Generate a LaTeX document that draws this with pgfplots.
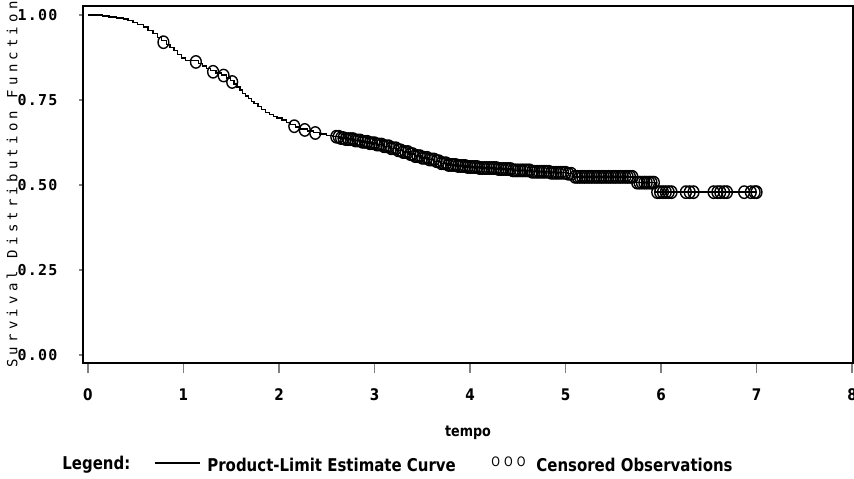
\documentclass[border=0pt]{standalone}
\usepackage{fontspec}
\usepackage{pgfplots}
\usepackage{pgfplotstable}
\pgfplotsset{compat=1.18}
\newfontfamily\sastext[FakeStretch=0.85]{DejaVu Sans}
\newfontfamily\sasmono[LetterSpace=8]{DejaVu Sans Mono}
\newfontfamily\saslab[LetterSpace=30]{DejaVu Sans Mono}

% product-limit estimate (step function)
\pgfplotstableread{
x y
0.00 1.000
0.15 0.997
0.22 0.994
0.30 0.991
0.37 0.988
0.42 0.983
0.47 0.978
0.52 0.972
0.58 0.965
0.63 0.955
0.68 0.945
0.73 0.934
0.77 0.925
0.82 0.914
0.86 0.905
0.90 0.895
0.94 0.884
0.98 0.873
1.02 0.866
1.16 0.858
1.20 0.850
1.24 0.843
1.28 0.836
1.34 0.830
1.40 0.823
1.45 0.815
1.49 0.807
1.53 0.797
1.56 0.788
1.59 0.779
1.62 0.770
1.65 0.762
1.68 0.754
1.71 0.746
1.74 0.739
1.78 0.731
1.82 0.722
1.86 0.714
1.90 0.707
1.94 0.702
1.98 0.697
2.03 0.691
2.08 0.684
2.12 0.678
2.17 0.671
2.22 0.665
2.30 0.659
2.36 0.654
2.43 0.650
2.50 0.646
2.56 0.642
2.63 0.638
2.70 0.635
2.78 0.631
2.86 0.627
2.94 0.623
3.02 0.619
3.10 0.614
3.17 0.608
3.24 0.602
3.30 0.597
3.36 0.591
3.42 0.585
3.49 0.580
3.56 0.575
3.63 0.570
3.70 0.564
3.76 0.559
3.86 0.556
3.97 0.553
4.10 0.550
4.28 0.547
4.45 0.543
4.63 0.539
4.85 0.536
5.02 0.533
5.08 0.524
5.73 0.507
5.94 0.479
7.00 0.479
}\kmcurve

% censored observations
\pgfplotstableread{
x y
0.79 0.920
1.13 0.862
1.31 0.833
1.42 0.822
1.51 0.803
2.16 0.673
2.27 0.662
2.38 0.653
2.600 0.642
2.625 0.642
2.650 0.638
2.675 0.638
2.700 0.635
2.725 0.635
2.750 0.635
2.775 0.635
2.800 0.631
2.825 0.631
2.850 0.631
2.875 0.627
2.900 0.627
2.925 0.627
2.950 0.623
2.975 0.623
3.000 0.623
3.025 0.619
3.050 0.619
3.075 0.619
3.100 0.614
3.125 0.614
3.150 0.614
3.175 0.608
3.200 0.608
3.225 0.608
3.250 0.602
3.275 0.602
3.300 0.597
3.325 0.597
3.350 0.597
3.375 0.591
3.400 0.591
3.425 0.585
3.450 0.585
3.475 0.585
3.500 0.580
3.525 0.580
3.550 0.580
3.575 0.575
3.600 0.575
3.625 0.575
3.650 0.570
3.675 0.570
3.700 0.564
3.725 0.564
3.750 0.564
3.775 0.559
3.800 0.559
3.825 0.559
3.850 0.559
3.875 0.556
3.900 0.556
3.925 0.556
3.950 0.556
3.975 0.553
4.000 0.553
4.025 0.553
4.050 0.553
4.075 0.553
4.100 0.550
4.125 0.550
4.150 0.550
4.175 0.550
4.200 0.550
4.225 0.550
4.250 0.550
4.275 0.550
4.300 0.547
4.325 0.547
4.350 0.547
4.375 0.547
4.400 0.547
4.425 0.547
4.450 0.543
4.475 0.543
4.500 0.543
4.525 0.543
4.550 0.543
4.575 0.543
4.600 0.543
4.625 0.543
4.650 0.539
4.675 0.539
4.700 0.539
4.725 0.539
4.750 0.539
4.775 0.539
4.800 0.539
4.825 0.539
4.850 0.536
4.875 0.536
4.900 0.536
4.925 0.536
4.950 0.536
4.975 0.536
5.000 0.536
5.030 0.533
5.060 0.533
5.100 0.524
5.125 0.524
5.150 0.524
5.175 0.524
5.200 0.524
5.225 0.524
5.250 0.524
5.275 0.524
5.300 0.524
5.325 0.524
5.350 0.524
5.375 0.524
5.400 0.524
5.425 0.524
5.450 0.524
5.475 0.524
5.500 0.524
5.525 0.524
5.550 0.524
5.575 0.524
5.600 0.524
5.625 0.524
5.650 0.524
5.675 0.524
5.700 0.524
5.750 0.507
5.775 0.507
5.800 0.507
5.825 0.507
5.850 0.507
5.875 0.507
5.900 0.507
5.925 0.507
5.96 0.479
5.99 0.479
6.02 0.479
6.05 0.479
6.08 0.479
6.11 0.479
6.26 0.479
6.30 0.479
6.34 0.479
6.55 0.479
6.59 0.479
6.62 0.479
6.66 0.479
6.69 0.479
6.87 0.479
6.94 0.479
6.98 0.479
7.00 0.479
}\censored

\begin{document}
\begin{tikzpicture}
\begin{axis}[
  name=km,
  at={(0,0)}, anchor=south west,
  scale only axis,
  width=385pt, height=178.5pt,
  xmin=-0.052, xmax=8.01,
  ymin=-0.0235, ymax=1.0265,
  axis line style={line width=0.7pt},
  xtick={0,1,2,3,4,5,6,7,8},
  xticklabels={0,1,2,3,4,5,6,7,8},
  ytick={0,0.25,0.5,0.75,1},
  yticklabels={0.00,0.25,0.50,0.75,1.00},
  tick align=outside,
  xtick pos=bottom, ytick pos=left,
  xtick style={line width=0.7pt, /pgfplots/major tick length=5pt},
  ytick style={line width=0.7pt, /pgfplots/major tick length=2pt},
  xticklabel style={font=\sastext\bfseries\fontsize{8}{9}\selectfont, yshift=-5pt},
  yticklabel style={font=\sasmono\bfseries\fontsize{7.5}{9}\selectfont, xshift=-5pt},
  xlabel={tempo},
  xlabel style={font=\sastext\bfseries\fontsize{7.5}{9}\selectfont,
    at={(rel axis cs:0.5,0)}, anchor=center, yshift=-35pt},
  ylabel={Survival Distribution Function},
  ylabel style={font=\saslab\fontsize{7}{9}\selectfont,
    at={(rel axis cs:0,0.5)}, anchor=center, yshift=35.5pt},
  clip=false,
]
\addplot[const plot, black, line width=0.7pt] table[x=x, y=y] {\kmcurve};
\addplot[only marks, mark=o, mark size=2.7pt,
  mark options={black, line width=0.7pt, yscale=1.15}] table[x=x, y=y] {\censored};
\end{axis}
% legend
\begin{scope}[every node/.style={inner sep=0pt, anchor=west,
    font=\sastext\bfseries\fontsize{8.8}{10}\selectfont}]
  \node at (-10.5pt,-51pt) {Legend:};
  \draw[line width=0.6pt] (36pt,-50pt) -- (58.5pt,-50pt);
  \node at (62pt,-51pt) {Product-Limit Estimate Curve};
  \node[font=\sastext\fontsize{6.5}{8}\selectfont] at (204pt,-49.5pt) {O\hspace{2pt}O\hspace{2pt}O};
  \node at (226.5pt,-51pt) {Censored Observations};
\end{scope}
\pgfresetboundingbox
\useasboundingbox (-41.5pt,-57.5pt) rectangle (385.5pt,181.5pt);
\end{tikzpicture}
\end{document}
